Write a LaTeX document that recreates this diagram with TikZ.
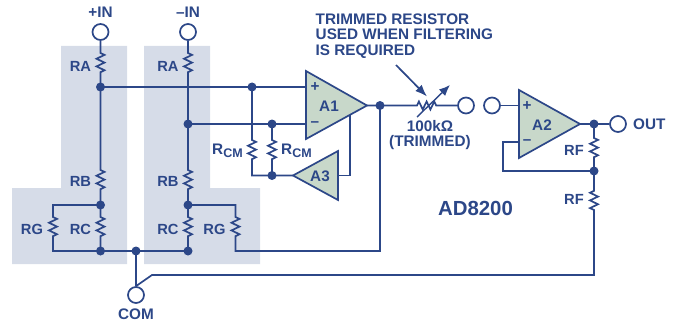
\documentclass[tikz,border=0pt]{standalone}
\usepackage{fontspec}
\setmainfont{Liberation Sans}
\usetikzlibrary{decorations.pathmorphing,arrows.meta,calc}
\definecolor{adi}{HTML}{2C4788}
\definecolor{shade}{HTML}{D6DCE8}
\definecolor{ampfill}{HTML}{C8D8CA}
\newcommand{\fs}[1]{\fontsize{#1}{15.6}\selectfont\bfseries}
\newcommand{\rcm}{R\raisebox{-3pt}{\fontsize{12.5}{13}\selectfont CM}}
\tikzset{
  wire/.style={draw=adi,line width=1.7pt,line join=miter},
  zz/.style={decoration={zigzag,segment length=7.67pt,amplitude=4pt}},
  dot/.style={circle,fill=adi,draw=none,minimum size=9pt,inner sep=0pt},
  term/.style={circle,draw=adi,fill=white,line width=1.7pt,minimum size=16pt,inner sep=0pt},
  amp/.style={draw=adi,fill=ampfill,line width=1.7pt,line join=miter},
  lab/.style={text=adi,font=\fs{14.7},inner sep=0pt},
  lablg/.style={text=adi,font=\fs{15.3},inner sep=0pt},
  shadebox/.style={fill=shade,draw=none},
}
\begin{document}
\begin{tikzpicture}[x=1pt,y=-1pt]
\useasboundingbox (0,0) rectangle (675,321);
% shaded zones
\fill[shadebox] (61,46) -- (127,46) -- (127,264) -- (12,264) -- (12,188) -- (61,188) -- cycle;
\fill[shadebox] (144,46) -- (210,46) -- (210,188) -- (260,188) -- (260,264) -- (144,264) -- cycle;

% terminals
\node[term] (inp) at (100.5,32) {};
\node[term] (inn) at (188,32) {};
\node[term] (com) at (136,295) {};
\node[term] (tl) at (466,105.5) {};
\node[term] (tr) at (492,105.5) {};
\node[term] (out) at (618,124) {};

% junctions
\coordinate (n1) at (100.5,87);
\coordinate (n2) at (100.5,205);
\coordinate (n3) at (100.5,251);
\coordinate (m1) at (188,124);
\coordinate (m2) at (188,205);
\coordinate (m3) at (188,251);
\coordinate (c1) at (136,251);
\coordinate (p1) at (252,87);
\coordinate (p2) at (272,124);
\coordinate (p3) at (272,175.5);
\coordinate (o1) at (380,105.5);
\coordinate (o2) at (594,124);
\coordinate (o3) at (594,171);

% amplifier pins
\coordinate (a1p) at (306,87);
\coordinate (a1n) at (306,124);
\coordinate (a1o) at (367,105.5);
\coordinate (a3o) at (338,175.5);
\coordinate (a3i) at (293,175.5);
\coordinate (a3f) at (350,114.5);
\coordinate (a2p) at (519,105.5);
\coordinate (a2n) at (519,142);
\coordinate (a2o) at (580,124);

% left input string
\draw[wire] (inp) -- (100.5,53) decorate[zz]{-- (100.5,76)} -- (n1)
   -- (100.5,170) decorate[zz]{-- (100.5,193)} -- (n2)
   -- (100.5,217) decorate[zz]{-- (100.5,240)} -- (n3);
\draw[wire] (n2) -- (53,205) -- (53,217) decorate[zz]{-- (53,240)} -- (53,251) -- (n3);
% right input string
\draw[wire] (inn) -- (188,53) decorate[zz]{-- (188,76)} -- (188,87) -- (m1)
   -- (188,170) decorate[zz]{-- (188,193)} -- (m2)
   -- (188,217) decorate[zz]{-- (188,240)} -- (m3);
\draw[wire] (m2) -- (235.5,205) -- (235.5,217) decorate[zz]{-- (235.5,240)} -- (235.5,251) -- (380,251) -- (o1);
\draw[wire] (n3) -- (c1) -- (m3);
\draw[wire] (c1) -- (com);
\draw[wire] (com.north) -- (152,275) -- (594,275) -- (594,210) decorate[zz]{-- (594,187)} -- (o3);

% A1 inputs and common-mode loop
\draw[wire] (n1) -- (p1) -- (a1p);
\draw[wire] (m1) -- (p2) -- (a1n);
\draw[wire] (p1) -- (252,140) decorate[zz]{-- (252,163)} -- (252,175.5) -- (p3) -- (a3i);
\draw[wire] (p2) -- (272,140) decorate[zz]{-- (272,163)} -- (p3);
\draw[wire] (a3o) -- (350,175.5) -- (a3f);

% output stage
\draw[wire] (a1o) -- (o1) -- (417,105.5) decorate[zz]{-- (440,105.5)} -- (tl);
\draw[wire] (tr) -- (a2p);
\draw[wire] (a2n) -- (503,142) -- (503,171) -- (o3);
\draw[wire] (a2o) -- (o2) -- (out);
\draw[wire] (o2) -- (594,138) decorate[zz]{-- (594,161)} -- (o3);

% trim arrow and pointer
\coordinate (t1) at (417,117);
\coordinate (t2) at (450,85);
\coordinate (c3) at (396,65);
\coordinate (c4) at (427,96.5);
\draw[wire,line width=1.4pt,-{Latex[length=11pt,width=9pt]}] (t1) -- (t2);
\draw[wire,-{Latex[length=12pt,width=9pt]}] (c3) -- (c4);

% amplifiers
\draw[amp] (306,71) -- (a1o) -- (306,139) -- cycle;
\draw[amp] (338,151) -- (a3i) -- (338,200) -- cycle;
\draw[amp] (519,90) -- (a2o) -- (519,158) -- cycle;

% dots
\foreach \d in {n1,n2,n3,m1,m2,m3,c1,p1,p2,p3,o1,o2,o3} \node[dot] at (\d) {};

% amplifier texts
\node[lablg] (ta1) at (329,106) {A1};
\node[lablg] (ta3) at (320,176) {A3};
\node[lablg] (ta2) at (542,125) {A2};
\node[lablg] (s1) at (315,87) {+};
\node[lablg] (s2) at (315,124) {–};
\node[lablg] (s3) at (527,106) {+};
\node[lablg] (s4) at (527,142) {–};

% labels
\node[lablg] (l1) at (100.5,12.5) {+IN};
\node[lablg] (l2) at (188,12.5) {–IN};
\node[lab] (l3) at (80.5,66) {RA};
\node[lab] (l4) at (168,66) {RA};
\node[lab] (l5) at (80.5,181) {RB};
\node[lab] (l6) at (168,181) {RB};
\node[lab] (l7) at (80.5,229) {RC};
\node[lab] (l8) at (168,229) {RC};
\node[lab] (l9) at (32,229) {RG};
\node[lab] (l10) at (214.5,229) {RG};
\node[lablg] (l11) at (136,314) {COM};
\node[lablg,anchor=base west] (l12) at (212,154) {\rcm};
\node[lablg,anchor=base west] (l13) at (281,154) {\rcm};
\node[lab] (l14) at (574,150) {RF};
\node[lab] (l15) at (574,199.5) {RF};
\node[lablg,anchor=west] (l16) at (633,124) {OUT};
\node[text=adi,font=\fs{20.4},inner sep=0pt] (l17) at (475.5,208) {AD8200};
\node[lablg,anchor=north west,align=left] (l18) at (315.5,13.5) {TRIMMED RESISTOR\\USED WHEN FILTERING\\IS REQUIRED};
\node[lablg,align=center] (l19) at (430,135) {100kΩ\\(TRIMMED)};
\end{tikzpicture}
\end{document}
